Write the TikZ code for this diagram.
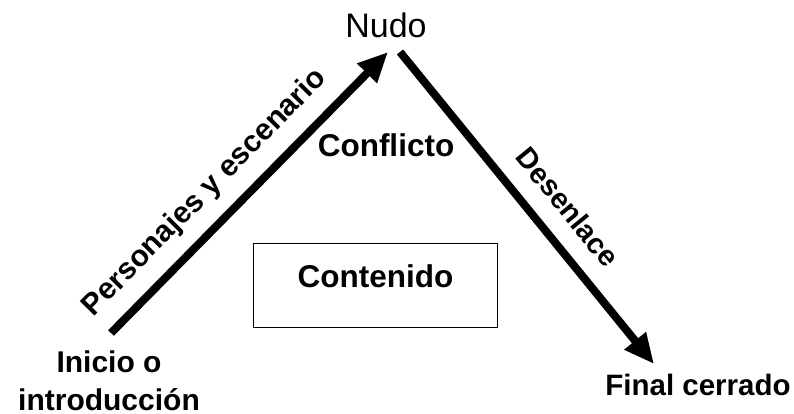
\documentclass[tikz,border=0pt]{standalone}
\usepackage{fontspec}
\setmainfont{Liberation Sans}
\usetikzlibrary{arrows.meta}
\tikzset{
  arrowline/.style={line width=8pt, -{Triangle[length=30pt,width=26pt]}},
  boldlbl/.style={font=\bfseries\fontsize{30}{38}\selectfont, inner sep=0pt},
  plainlbl/.style={font=\fontsize{34}{40}\selectfont, inner sep=0pt},
}
\begin{document}
\begin{tikzpicture}[x=1pt,y=-1pt]
\useasboundingbox (0,0) rectangle (794,414);
\coordinate (s1) at (111,333);
\coordinate (t1) at (388,52);
\coordinate (s2) at (400,52);
\coordinate (t2) at (654,364);
\draw[arrowline] (s1) -- (t1);
\draw[arrowline] (s2) -- (t2);
\node[plainlbl, anchor=base] (nudo) at (386,38) {Nudo};
\node[boldlbl, font=\bfseries\fontsize{31.5}{38}\selectfont, anchor=base] (conf) at (386,157) {Conflicto};
\node[draw, line width=1pt, anchor=north west, minimum width=244pt, inner sep=0pt,
      text height=44pt, text depth=40pt, font=\bfseries\fontsize{31.5}{38}\selectfont] (cont) at (253,243) {Contenido};
\node[boldlbl, rotate=45.4] (pers) at (205,193) {Personajes y escenario};
\node[boldlbl, font=\bfseries\fontsize{29}{36}\selectfont, rotate=-50.8] (desen) at (568,207) {Desenlace};
\node[boldlbl, align=center, anchor=base] (ini) at (109,410) {Inicio o\\introducción};
\node[boldlbl, font=\bfseries\fontsize{29.5}{36}\selectfont, anchor=base] (fin) at (698,395) {Final cerrado};
\end{tikzpicture}
\end{document}
